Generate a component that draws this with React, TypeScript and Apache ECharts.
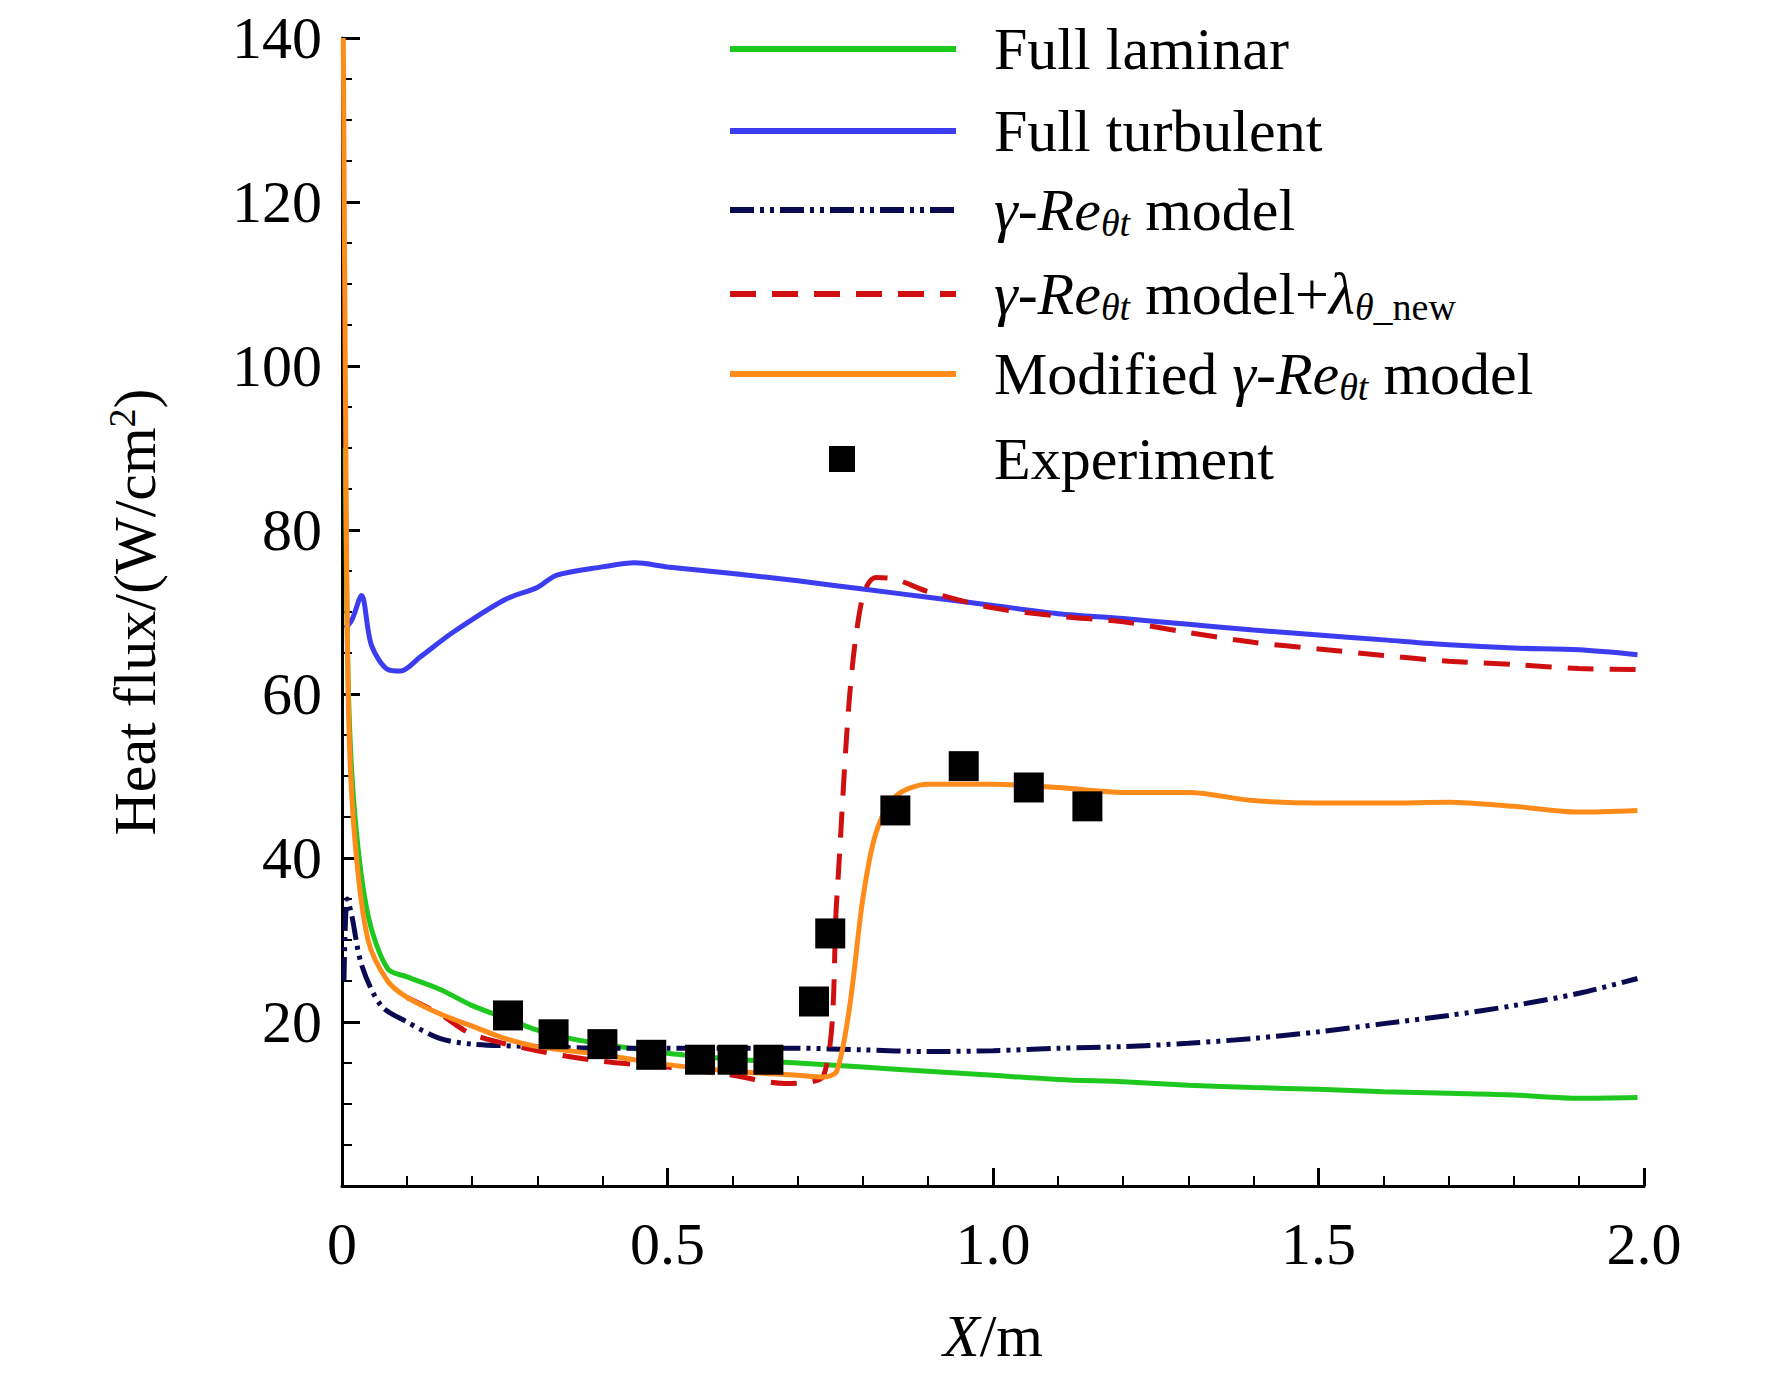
import React, { useEffect, useRef } from 'react';
import * as echarts from 'echarts';

// data, x in m, y in W/cm2
const laminar = [[0.005, 90], [0.01, 60], [0.02, 45], [0.04, 33], [0.07, 26.5], [0.1, 25.5], [0.15, 24], [0.2, 22], [0.25, 20.5], [0.3, 19], [0.35, 18], [0.4, 17.3], [0.5, 16.2], [0.6, 15.5], [0.7, 15], [0.8, 14.5], [0.9, 14], [1.0, 13.5], [1.1, 13], [1.2, 12.7], [1.3, 12.3], [1.4, 12], [1.5, 11.8], [1.6, 11.5], [1.7, 11.3], [1.8, 11.1], [1.9, 10.7], [1.99, 10.8]];
const turbulent = [[0.005, 68], [0.015, 69], [0.03, 72], [0.045, 66], [0.07, 63], [0.09, 62.8], [0.12, 64.5], [0.17, 67.5], [0.25, 71.5], [0.3, 73], [0.33, 74.5], [0.4, 75.5], [0.45, 76], [0.5, 75.5], [0.6, 74.7], [0.7, 73.8], [0.8, 72.8], [0.9, 71.8], [1.0, 70.8], [1.1, 69.8], [1.2, 69.2], [1.3, 68.5], [1.4, 67.8], [1.5, 67.2], [1.6, 66.6], [1.7, 66], [1.8, 65.6], [1.9, 65.4], [1.99, 64.8]];
const gammaRe = [[0.003, 25], [0.008, 35], [0.015, 33], [0.03, 27], [0.06, 22], [0.1, 20], [0.15, 18], [0.2, 17.3], [0.3, 17], [0.4, 16.8], [0.5, 16.8], [0.6, 16.8], [0.7, 16.8], [0.8, 16.6], [0.9, 16.4], [1.0, 16.5], [1.1, 16.8], [1.2, 17], [1.3, 17.4], [1.4, 18], [1.5, 18.8], [1.6, 19.8], [1.7, 20.8], [1.8, 22], [1.9, 23.5], [1.99, 25.3]];
const gammaLambda = [[0.1, 23], [0.15, 21], [0.2, 18.5], [0.3, 16.5], [0.4, 15.2], [0.5, 14.5], [0.6, 13.5], [0.68, 12.5], [0.74, 13.5], [0.76, 35], [0.78, 60], [0.8, 72], [0.82, 74.2], [0.85, 74], [0.9, 72.5], [1.0, 70.5], [1.1, 69.5], [1.2, 68.8], [1.3, 67.5], [1.4, 66.3], [1.5, 65.5], [1.6, 64.7], [1.7, 64], [1.8, 63.6], [1.9, 63.1], [1.99, 63]];
const modified = [[0.002, 140], [0.005, 100], [0.01, 58], [0.02, 42], [0.04, 30], [0.07, 25], [0.1, 23], [0.15, 21], [0.2, 19.5], [0.25, 18], [0.3, 17], [0.4, 16], [0.5, 14.8], [0.6, 14], [0.7, 13.5], [0.74, 13.3], [0.76, 14], [0.78, 22], [0.8, 35], [0.82, 43], [0.85, 47.5], [0.9, 49], [1.0, 49], [1.1, 48.6], [1.2, 48], [1.3, 48], [1.4, 47], [1.5, 46.7], [1.6, 46.7], [1.7, 46.8], [1.8, 46.3], [1.9, 45.6], [1.99, 45.8]];
const experiment = [[0.255, 20.8], [0.325, 18.5], [0.4, 17.3], [0.475, 16], [0.55, 15.4], [0.6, 15.4], [0.655, 15.4], [0.725, 22.5], [0.75, 30.8], [0.85, 45.8], [0.955, 51.2], [1.055, 48.6], [1.145, 46.3]];

const FONT = '"Liberation Serif", "DejaVu Serif", serif';
const rich = {
  n: { fontFamily: FONT, fontSize: 60, color: '#000' },
  i: { fontFamily: FONT, fontSize: 60, fontStyle: 'italic', color: '#000' },
  s: { fontFamily: FONT, fontSize: 38, fontStyle: 'italic', color: '#000', padding: [26, 0, 0, 0] },
  sn: { fontFamily: FONT, fontSize: 38, color: '#000', padding: [26, 0, 0, 0] },
};

const legendRows = [
  { text: '{n|Full laminar}', color: '#1ec81e', type: 'solid' },
  { text: '{n|Full turbulent}', color: '#3c3cf0', type: 'solid' },
  { text: '{i|γ}{n|-}{i|Re}{s|θt}{n| model}', color: '#0a0a50', type: [24, 6, 4, 6, 4, 6] },
  { text: '{i|γ}{n|-}{i|Re}{s|θt}{n| model+}{i|λ}{s|θ}{sn|_new}', color: '#d01010', type: [26, 16] },
  { text: '{n|Modified }{i|γ}{n|-}{i|Re}{s|θt}{n| model}', color: '#ff8c1a', type: 'solid' },
];
const legendY = [41, 123, 202, 286, 366, 451];

const App: React.FC = () => {
  const ref = useRef<HTMLDivElement | null>(null);

  useEffect(() => {
    if (!ref.current) return;
    const chart = echarts.init(ref.current, null, { renderer: 'svg' });
    const graphic: any[] = [];
    legendRows.forEach((r, k) => {
      graphic.push({ type: 'line', shape: { x1: 722, y1: legendY[k], x2: 948, y2: legendY[k] }, style: { stroke: r.color, lineWidth: 6, lineDash: r.type === 'solid' ? null : r.type } });
      graphic.push({ type: 'text', x: 986, y: legendY[k], style: { text: r.text, rich, verticalAlign: 'middle', fill: '#000' } });
    });
    graphic.push({ type: 'rect', shape: { x: 821, y: legendY[5] - 13, width: 26, height: 26 }, style: { fill: '#000' } });
    graphic.push({ type: 'text', x: 986, y: legendY[5], style: { text: '{n|Experiment}', rich, verticalAlign: 'middle' } });

    const line = (data: number[][], color: string, type: any) => ({
      type: 'line', data, showSymbol: false, smooth: 0.3, lineStyle: { color, width: 5, type }, z: 2,
    });

    chart.setOption({
      animation: false,
      grid: { left: 334, right: 136, top: 28, bottom: 198 },
      xAxis: {
        type: 'value', min: 0, max: 2, interval: 0.5,
        name: '{i|X}{n|/m}', nameLocation: 'middle', nameGap: 120, nameTextStyle: { rich },
        axisLine: { lineStyle: { color: '#000', width: 3 } },
        axisTick: { inside: true, length: 18, lineStyle: { color: '#000', width: 3 } },
        minorTick: { show: true, splitNumber: 5, length: 10, lineStyle: { color: '#000', width: 2 } },
        axisLabel: { fontFamily: FONT, fontSize: 60, color: '#000', margin: 28, formatter: (v: number) => (v === 0 ? '0' : v.toFixed(1)) },
        splitLine: { show: false },
      },
      yAxis: {
        type: 'value', min: 0, max: 140, interval: 20,
        name: '{n|Heat flux/(W/cm}{sup|2}{n|)}', nameLocation: 'middle', nameGap: 175, nameRotate: 90,
        nameTextStyle: { rich: { ...rich, sup: { fontFamily: FONT, fontSize: 38, color: '#000', padding: [0, 0, 26, 0] } } },
        axisLine: { lineStyle: { color: '#000', width: 3 } },
        axisTick: { inside: true, length: 18, lineStyle: { color: '#000', width: 3 } },
        minorTick: { show: true, splitNumber: 4, length: 10, lineStyle: { color: '#000', width: 2 } },
        axisLabel: { fontFamily: FONT, fontSize: 60, color: '#000', margin: 20, formatter: (v: number) => (v === 0 ? '' : String(v)) },
        splitLine: { show: false },
      },
      graphic,
      series: [
        line(laminar, '#1ec81e', 'solid'),
        line(turbulent, '#3c3cf0', 'solid'),
        line(gammaRe, '#0a0a50', [24, 6, 4, 6, 4, 6]),
        line(gammaLambda, '#d01010', [26, 16]),
        line(modified, '#ff8c1a', 'solid'),
        { type: 'scatter', data: experiment, symbol: 'rect', symbolSize: 30, itemStyle: { color: '#000', opacity: 1 }, z: 5 },
      ],
    });
    return () => chart.dispose();
  }, []);

  return <div ref={ref} style={{ width: 1772, height: 1376 }} />;
};

export default App;
